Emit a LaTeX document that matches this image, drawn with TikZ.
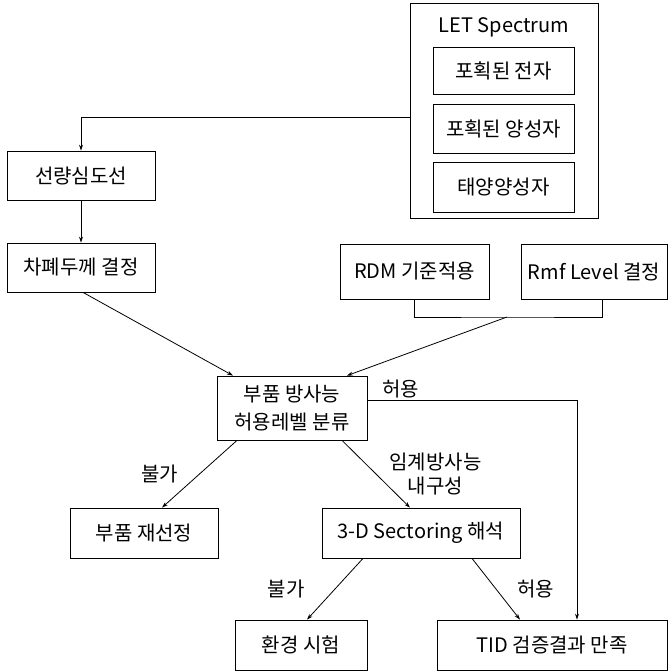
\documentclass[tikz,border=0pt]{standalone}
\usepackage{fontspec}
\setmainfont{Noto Sans CJK KR}
\usetikzlibrary{arrows.meta}

\tikzset{
  blk/.style={draw, inner sep=0pt, align=center, font=\fontsize{20}{28}\selectfont},
  lbl/.style={inner sep=1pt, align=center, font=\fontsize{20}{24}\selectfont}
}

\begin{document}
\begin{tikzpicture}[x=1pt, y=-1pt, line width=0.8pt, >={Stealth[length=6pt,width=4pt]}]
\useasboundingbox (0,0) rectangle (671,672);

\node (let) at (504,110.5) [blk, minimum width=188pt, minimum height=215pt] {};
\node (lettitle) at (504,27) [lbl] {LET Spectrum};
\node (elec) at (503.5,70.5) [blk, minimum width=141pt, minimum height=47pt] {포획된 전자};
\node (prot) at (503.5,128.5) [blk, minimum width=141pt, minimum height=49pt] {포획된 양성자};
\node (solar) at (503.5,187) [blk, minimum width=141pt, minimum height=50pt] {태양양성자};

\node (dose) at (81,175.5) [blk, minimum width=148pt, minimum height=49pt] {선량심도선};
\node (shield) at (81,267.5) [blk, minimum width=148pt, minimum height=49pt] {차폐두께 결정};
\node (rdm) at (414.5,271.5) [blk, minimum width=149pt, minimum height=55pt] {RDM 기준적용};
\node (rmf) at (594,271.5) [blk, minimum width=146pt, minimum height=55pt] {Rmf Level 결정};
\coordinate (join) at (507,317);

\node (part) at (292,408) [blk, minimum width=150pt, minimum height=64pt] {부품 방사능\\허용레벨 분류};
\node (resel) at (144,533) [blk, minimum width=148pt, minimum height=50pt] {부품 재선정};
\node (sect) at (421,533) [blk, minimum width=198pt, minimum height=50pt] {3-D Sectoring 해석};
\node (env) at (301,645) [blk, minimum width=132pt, minimum height=50pt] {환경 시험};
\node (tid) at (552,645) [blk, minimum width=230pt, minimum height=50pt] {TID 검증결과 만족};

\draw [->] ([yshift=-6.5pt]let.west) -| (dose.north);
\draw [->] (dose) -- (shield);
\draw (rdm.south) |- (join) -| ([xshift=8pt]rmf.south);
\draw [->] (join) -- ([xshift=55pt]part.north);
\draw [->] ([xshift=2pt]shield.south) -- ([xshift=-59pt]part.north);

\draw [->] ([yshift=8pt]part.east) -| ([xshift=25pt]tid.north) node[pos=0.08, above=1pt, lbl] (ok1) {허용};
\draw [->] ([xshift=-55pt]part.south) -- ([xshift=18pt]resel.north) node[midway, left=20pt, lbl] (no1) {불가};
\draw [->] ([xshift=50pt]part.south) -- ([xshift=-11pt]sect.north) node[midway, right=12pt, lbl] (crit) {임계방사능\\내구성};
\draw [->] ([xshift=-58pt]sect.south) -- ([xshift=6pt]env.north) node[midway, left=29pt, lbl] (no2) {불가};
\draw [->] ([xshift=51pt]sect.south) -- ([xshift=-32pt]tid.north) node[midway, right=20pt, lbl] (ok2) {허용};

\end{tikzpicture}
\end{document}
